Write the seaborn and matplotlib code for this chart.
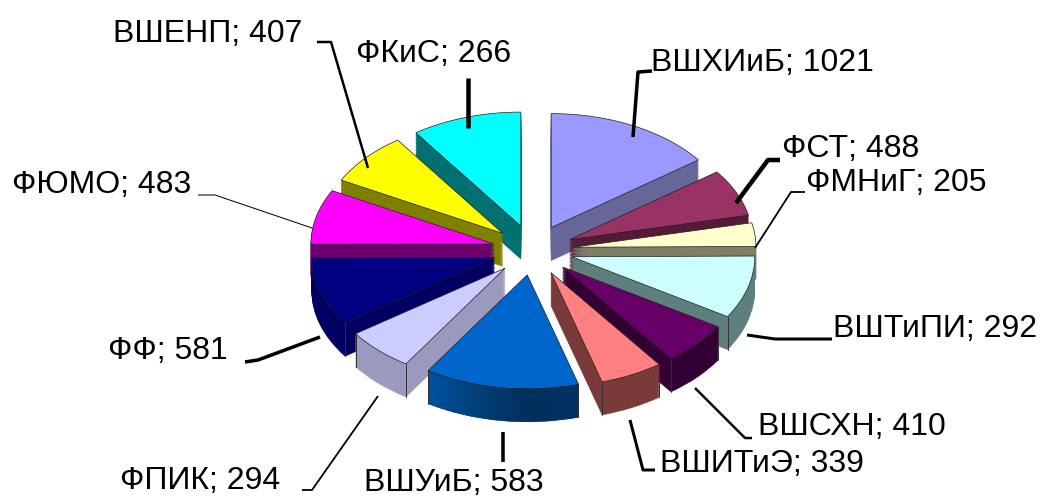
import numpy as np
import matplotlib
matplotlib.use("Agg")
import matplotlib.pyplot as plt
from matplotlib.lines import Line2D
from matplotlib.path import Path
from matplotlib.patches import PathPatch
import seaborn as sns

categories = ["ВШХИиБ", "ФСТ", "ФМНиГ", "ВШТиПИ", "ВШСХН", "ВШИТиЭ",
              "ВШУиБ", "ФПИК", "ФФ", "ФЮМО", "ВШЕНП", "ФКиС"]
label_values = [1021, 488, 205, 292, 410, 339, 583, 294, 581, 483, 407, 266]
# Slice sizes as drawn in the picture (they differ from the printed labels)
drawn_shares = [53.5, 24, 12, 32, 22, 20, 49, 22, 35, 28, 27, 35]
top_colors = ["#9999FF", "#993366", "#FFFFCC", "#CCFFFF", "#660066", "#FF8080",
              "#0066CC", "#CCCCFF", "#000080", "#FF00FF", "#FFFF00", "#00FFFF"]
side_colors = ["#666699", "#551A38", "#7F7F66", "#5F7F7F", "#330033", "#7A3A3A",
               "#003D73", "#9A9ABF", "#000062", "#6E006E", "#808000", "#007070"]
blue_wall_colors = ["#00519F", "#003F78", "#00305E", "#003263"]

W, H = 1042, 498
CX, CY, RX, RY = 533, 250, 183, 114
DEPTH = 33 / RY
LAYERS = 24
EXPLODE = [0.22] * len(drawn_shares)
BLUE = categories.index("ВШУиБ")

sns.set_theme(style="white")
plt.rcParams["font.family"] = ["Liberation Sans", "DejaVu Sans"]
fig = plt.figure(figsize=(W / 100, H / 100), dpi=100)
ax = fig.add_axes([0, 0, 1, 1])

tops = sns.color_palette(top_colors)
sides = sns.color_palette(side_colors)
mids = 90 - (np.cumsum(drawn_shares) - np.array(drawn_shares) / 2) * 360 / sum(drawn_shares)
rank = {i: r for r, i in enumerate(np.argsort(-np.sin(np.radians(mids))))}

top_wedges = None
for layer in range(LAYERS + 1):
    dz = DEPTH * (1 - layer / LAYERS)
    wedges, _ = ax.pie(drawn_shares, startangle=90, counterclock=False, radius=1,
                       explode=EXPLODE, center=(0, -dz))
    for i, w in enumerate(wedges):
        w.set_zorder(rank[i] * 100 + layer + 1)
        if layer == LAYERS:
            w.set_facecolor(tops[i])
            w.set_edgecolor("#202020")
            w.set_linewidth(0.5)
            cx, cy = w.center
            for th in (w.theta1, w.theta2):
                x = cx + np.cos(np.radians(th))
                y = cy + np.sin(np.radians(th))
                if np.sin(np.radians(th)) < -0.05:
                    ax.plot([x, x], [y, y - DEPTH], color="#303030", lw=0.7,
                            zorder=rank[i] * 100 + layer + 2)
        else:
            w.set_facecolor(sides[i])
            w.set_edgecolor(sides[i])
            w.set_linewidth(0.3)
    if layer == LAYERS:
        top_wedges = wedges

# Shaded front wall of the blue slice
w = top_wedges[BLUE]
cx, cy = w.center
ths = np.radians(np.linspace(w.theta1, w.theta2, 80))
ax_x, ax_y = cx + np.cos(ths), cy + np.sin(ths)
wall = np.column_stack([np.r_[ax_x, ax_x[::-1]], np.r_[ax_y, ax_y[::-1] - DEPTH]])
grad = np.array(sns.blend_palette(blue_wall_colors, 120))[None, :, :3]
if ax_x[0] > ax_x[-1]:
    grad = grad[:, ::-1]
im = ax.imshow(grad, extent=(ax_x.min(), ax_x.max(), ax_y.min() - DEPTH, ax_y.max()),
               aspect="auto", zorder=rank[BLUE] * 100 + LAYERS + 0.5, interpolation="bilinear")
im.set_clip_path(PathPatch(Path(wall), transform=ax.transData))

ax.set_aspect("auto")
ax.set_xlim(-CX / RX, (W - CX) / RX)
ax.set_ylim(-(H - CY) / RY, CY / RY)
ax.axis("off")


def px(x, y):
    return x / W, 1 - y / H


label_xy = [(651, 63), (782, 149), (806, 183), (833, 329), (758, 427), (660, 464),
            (364, 483), (120, 481), (108, 351), (12, 185), (113, 34), (356, 54)]
leaders = [
    ([(652, 71), (638, 72), (633, 137)], 3.5),
    ([(780, 160), (768, 160), (736, 203)], 4.5),
    ([(805, 192), (791, 192), (755, 248)], 1.8),
    ([(832, 339), (775, 339), (747, 335)], 3),
    ([(752, 438), (745, 438), (695, 388)], 2.5),
    ([(655, 470), (643, 470), (630, 420)], 3),
    ([(503, 432), (503, 462)], 3.5),
    ([(302, 490), (312, 490), (378, 396)], 1.8),
    ([(245, 362), (258, 360), (320, 337)], 3.5),
    ([(198, 195), (215, 195), (312, 228)], 1),
    ([(317, 42), (331, 42), (368, 168)], 2.5),
    ([(468, 78), (468, 128)], 4.5),
]
for pts, lw in leaders:
    xs, ys = zip(*[px(*p) for p in pts])
    fig.add_artist(Line2D(xs, ys, color="black", lw=lw * 0.72, transform=fig.transFigure,
                          zorder=5000, solid_capstyle="butt"))

for c, v, (x, y) in zip(categories, label_values, label_xy):
    fx, fy = px(x, y)
    fig.text(fx, fy, f"{c}; {v}", fontsize=23, color="black", ha="left", va="center", zorder=6000)

fig.savefig("out.png", dpi=100)
